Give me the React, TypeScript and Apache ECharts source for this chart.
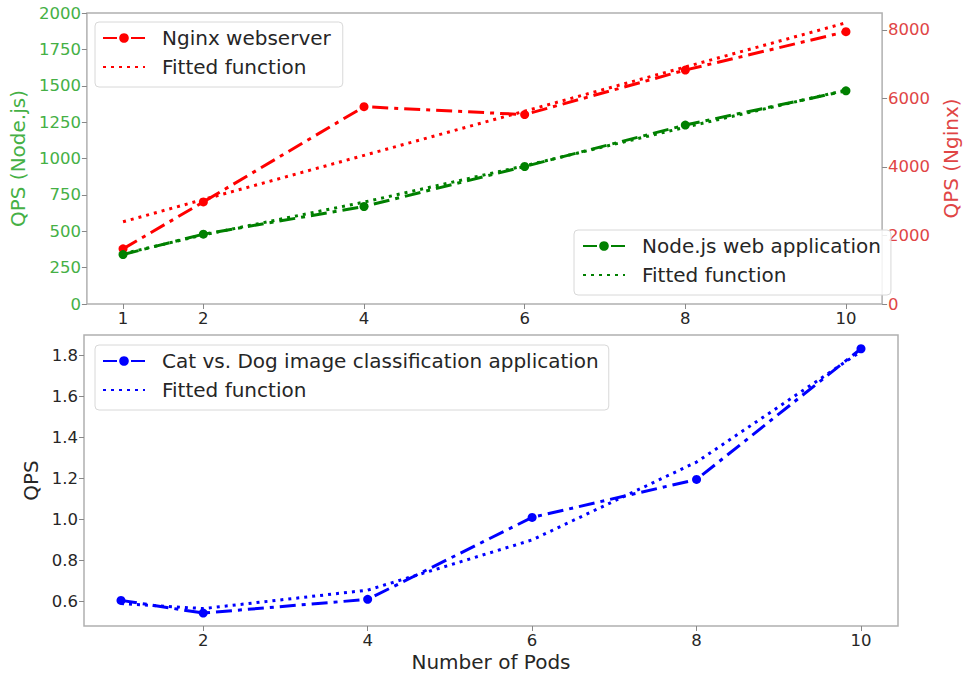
import React, { useEffect, useRef } from "react";
import * as echarts from "echarts";

const pods = [1, 2, 4, 6, 8, 10];
const nginxQps = [1610, 2980, 5760, 5530, 6830, 7950];
const nginxFit = [2400, 3050, 4340, 5630, 6920, 8210];
const nodeQps = [340, 480, 670, 945, 1230, 1465];
const nodeFit = [345, 475, 700, 950, 1215, 1470];
const catQps = [0.605, 0.543, 0.61, 1.01, 1.195, 1.833];
const catFit = [0.59, 0.565, 0.655, 0.9, 1.28, 1.82];

const topXTicks = [1, 2, 4, 6, 8, 10];
const bottomXTicks = [2, 4, 6, 8, 10];
const nodeTicks = [0, 250, 500, 750, 1000, 1250, 1500, 1750, 2000];
const nginxTicks = [0, 2000, 4000, 6000, 8000];
const catTicks = [0.6, 0.8, 1.0, 1.2, 1.4, 1.6, 1.8];

const FONT = "DejaVu Sans";
const TXT = "#262626";
const GREEN_LBL = "#45b045";
const RED_LBL = "#e04545";
const DASHDOT = [16, 6, 4, 6];
const LEGEND_DASHDOT = [14, 5, 4, 5];
const DOT = [3, 5];

const pairs = (ys: number[]) => pods.map((x, i) => [x, ys[i]]);
const plain = (v: number) => String(v);
const stripTag = (n: string) => n.replace(/ \(.*\)$/, "");
const hidden = { color: "rgba(0,0,0,0)", borderWidth: 0 };

export default function App() {
  const ref = useRef<HTMLDivElement>(null);
  useEffect(() => {
    const chart = echarts.init(ref.current!, null, { renderer: "svg" });
    const tick = { show: true, length: 5, lineStyle: { color: "#888", width: 1 } };
    const legendBase = {
      orient: "vertical" as const,
      itemWidth: 42,
      itemHeight: 12,
      itemGap: 9,
      borderColor: "#d8d8d8",
      borderWidth: 1,
      borderRadius: 4,
      backgroundColor: "rgba(255,255,255,0.85)",
      textStyle: { fontFamily: FONT, fontSize: 20, color: TXT, padding: [0, 0, 0, 12] },
      formatter: stripTag,
    };
    chart.setOption({
      animation: false,
      textStyle: { fontFamily: FONT },
      grid: [
        { left: 84, top: 13, width: 814, height: 291, show: true, borderColor: "#b0b0b0", borderWidth: 1.5, backgroundColor: "transparent" },
        { left: 84, top: 335, width: 814, height: 292, show: true, borderColor: "#b0b0b0", borderWidth: 1.5, backgroundColor: "transparent" },
      ],
      legend: [
        { ...legendBase, left: 95, top: 22, padding: [6, 12, 10, 7], data: [{ name: "Nginx webserver", lineStyle: { type: LEGEND_DASHDOT } }, { name: "Fitted function (Nginx)", itemStyle: hidden }] },
        { ...legendBase, left: 574, top: 230, padding: [6, 10, 10, 8], data: [{ name: "Node.js web application", lineStyle: { type: LEGEND_DASHDOT } }, { name: "Fitted function (Node)", itemStyle: hidden }] },
        { ...legendBase, left: 95, top: 345, padding: [6, 10, 10, 7], data: [{ name: "Cat vs. Dog image classification application", lineStyle: { type: LEGEND_DASHDOT } }, { name: "Fitted function (Cat)", itemStyle: hidden }] },
      ],
      xAxis: [
        {
          type: "value", gridIndex: 0, min: 0.55, max: 10.45,
          axisLine: { show: false }, splitLine: { show: false },
          axisTick: { ...tick, customValues: topXTicks },
          axisLabel: { customValues: topXTicks, fontSize: 16.5, color: TXT, margin: 6, fontFamily: FONT, formatter: plain },
        },
        {
          type: "value", gridIndex: 1, min: 0.55, max: 10.45,
          axisLine: { show: false }, splitLine: { show: false },
          axisTick: { ...tick, customValues: bottomXTicks },
          axisLabel: { customValues: bottomXTicks, fontSize: 16.5, color: TXT, margin: 6, fontFamily: FONT, formatter: plain },
          name: "Number of Pods", nameLocation: "middle", nameGap: 26,
          nameTextStyle: { fontSize: 20, color: TXT, fontFamily: FONT },
        },
      ],
      yAxis: [
        {
          type: "value", gridIndex: 0, min: 0, max: 2000, position: "left",
          axisLine: { show: false }, splitLine: { show: false },
          axisTick: { ...tick, customValues: nodeTicks },
          axisLabel: { customValues: nodeTicks, fontSize: 16.5, color: GREEN_LBL, margin: 6, fontFamily: FONT, formatter: plain },
          name: "QPS (Node.js)", nameLocation: "middle", nameGap: 54, nameRotate: 90,
          nameTextStyle: { fontSize: 20, color: GREEN_LBL, fontFamily: FONT },
        },
        {
          type: "value", gridIndex: 0, min: 0, max: 8496, position: "right",
          axisLine: { show: false }, splitLine: { show: false },
          axisTick: { ...tick, customValues: nginxTicks },
          axisLabel: { customValues: nginxTicks, fontSize: 16.5, color: RED_LBL, margin: 6, fontFamily: FONT, formatter: plain },
          name: "QPS (Nginx)", nameLocation: "middle", nameGap: 58, nameRotate: 90,
          nameTextStyle: { fontSize: 20, color: RED_LBL, fontFamily: FONT },
        },
        {
          type: "value", gridIndex: 1, min: 0.48, max: 1.9, position: "left",
          axisLine: { show: false }, splitLine: { show: false },
          axisTick: { ...tick, customValues: catTicks },
          axisLabel: { customValues: catTicks, fontSize: 16.5, color: TXT, margin: 6, fontFamily: FONT, formatter: (v: number) => v.toFixed(1) },
          name: "QPS", nameLocation: "middle", nameGap: 38, nameRotate: 90,
          nameTextStyle: { fontSize: 20, color: TXT, fontFamily: FONT },
        },
      ],
      series: [
        {
          name: "Nginx webserver", type: "line", xAxisIndex: 0, yAxisIndex: 1, data: pairs(nginxQps),
          symbol: "circle", symbolSize: 9, color: "#ff0000",
          lineStyle: { width: 3, type: DASHDOT, color: "#ff0000" }, itemStyle: { color: "#ff0000" },
        },
        {
          name: "Fitted function (Nginx)", type: "line", xAxisIndex: 0, yAxisIndex: 1, data: pairs(nginxFit),
          symbol: "none", color: "#ff0000",
          lineStyle: { width: 3, type: DOT, color: "#ff0000" },
        },
        {
          name: "Node.js web application", type: "line", xAxisIndex: 0, yAxisIndex: 0, data: pairs(nodeQps),
          symbol: "circle", symbolSize: 9, color: "#008000",
          lineStyle: { width: 3, type: DASHDOT, color: "#008000" }, itemStyle: { color: "#008000" },
        },
        {
          name: "Fitted function (Node)", type: "line", xAxisIndex: 0, yAxisIndex: 0, data: pairs(nodeFit),
          symbol: "none", color: "#008000",
          lineStyle: { width: 3, type: DOT, color: "#008000" },
        },
        {
          name: "Cat vs. Dog image classification application", type: "line", xAxisIndex: 1, yAxisIndex: 2, data: pairs(catQps),
          symbol: "circle", symbolSize: 9, color: "#0000ff",
          lineStyle: { width: 3, type: DASHDOT, color: "#0000ff" }, itemStyle: { color: "#0000ff" },
        },
        {
          name: "Fitted function (Cat)", type: "line", xAxisIndex: 1, yAxisIndex: 2, data: pairs(catFit),
          symbol: "none", color: "#0000ff",
          lineStyle: { width: 3, type: DOT, color: "#0000ff" },
        },
      ],
    });
    return () => chart.dispose();
  }, []);
  return (
    <div
      ref={ref}
      style={{ position: "fixed", left: 0, top: 0, width: 969, height: 673, background: "#fff" }}
    />
  );
}
